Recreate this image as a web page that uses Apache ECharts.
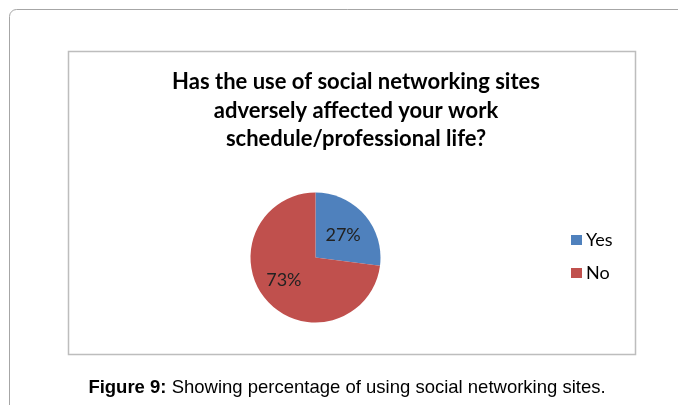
<!DOCTYPE html>
<html>
<head>
<meta charset="utf-8">
<style>
  html, body { margin: 0; padding: 0; background: #fff; }
  #chart { width: 678px; height: 405px; }
</style>
<script src="https://cdn.jsdelivr.net/npm/echarts@6/dist/echarts.min.js"></script>
</head>
<body>
<div id="chart"></div>
<script>
// Survey answers and their shares (percent)
const categories = ['Yes', 'No'];
const shares = [27, 73];
const sliceColors = ['#4f81bd', '#c0504d'];
const titleText = 'Has the use of social networking sites\nadversely affected your work\nschedule/professional life?';

const chart = echarts.init(document.getElementById('chart'), null, { renderer: 'canvas' });

chart.setOption({
  animation: false,
  backgroundColor: '#fff',
  title: {
    text: titleText,
    left: 351,
    top: 63,
    textAlign: 'center',
    textStyle: {
      fontFamily: 'Lato',
      fontWeight: 'bold',
      fontSize: 22,
      lineHeight: 28.5,
      color: '#000'
    }
  },
  legend: {
    orient: 'vertical',
    left: 571,
    top: 231,
    padding: 0,
    itemWidth: 11,
    itemHeight: 10,
    itemGap: 15,
    icon: 'rect',
    textStyle: { fontFamily: 'Lato', fontSize: 18, color: '#000', padding: [0, 0, 0, -1] },
    data: categories
  },
  series: [{
    type: 'pie',
    center: [315.5, 257.5],
    radius: 65,
    startAngle: 90,
    clockwise: true,
    silent: true,
    label: {
      show: true,
      position: 'inside',
      formatter: '{c}%',
      fontFamily: 'Lato',
      fontSize: 18,
      color: '#222'
    },
    labelLine: { show: false },
    itemStyle: { borderWidth: 0 },
    data: categories.map((name, i) => ({
      name,
      value: shares[i],
      itemStyle: { color: sliceColors[i] },
      label: { offset: i === 1 ? [-5, -1] : [1, 1] }
    }))
  }],
  graphic: [
    {
      type: 'rect',
      shape: { x: 9.5, y: 9.5, width: 700, height: 420, r: 7 },
      style: { fill: null, stroke: '#a6a6a6', lineWidth: 1 },
      z: -10
    },
    {
      type: 'rect',
      shape: { x: 68.5, y: 51.5, width: 567, height: 303 },
      style: { fill: null, stroke: '#bdbdbd', lineWidth: 1.5 },
      z: -10
    },
    {
      type: 'text',
      x: 347,
      y: 388,
      style: {
        text: '{b|Figure 9:} Showing percentage of using social networking sites.',
        align: 'center',
        verticalAlign: 'middle',
        fontFamily: 'Liberation Sans',
        fontSize: 18.5,
        fill: '#000',
        rich: {
          b: { fontFamily: 'Liberation Sans', fontSize: 18.5, fontWeight: 'bold', fill: '#000' }
        }
      }
    }
  ]
});
</script>
</body>
</html>
